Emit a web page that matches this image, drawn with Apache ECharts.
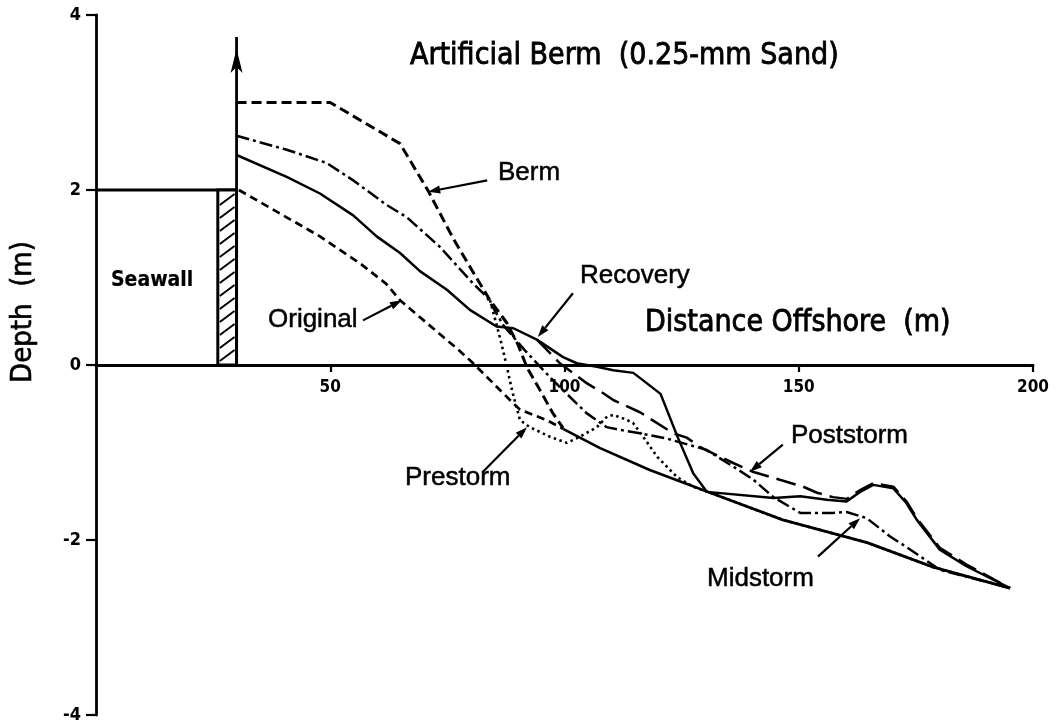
<!DOCTYPE html>
<html>
<head>
<meta charset="utf-8">
<script src="https://cdn.jsdelivr.net/npm/echarts@6/dist/echarts.min.js"></script>
<style>
  html, body { margin: 0; padding: 0; background: #fff; }
  #chart { width: 1059px; height: 727px; }
</style>
</head>
<body>
<div id="chart"></div>
<script>
// Beach profiles seaward of a seawall: distance offshore (m) against depth (m).
const xTicks = [0, 50, 100, 150, 200];
const yTicks = [-4, -2, 0, 2, 4];

// Seawall: offshore extent (m) and crest elevation (m)
const seawallX = [26, 30];
const seawallCrest = 2;
const backshore = [[0, 2], [30, 2]];
const wallFace = [[30, 0], [30, 3.75]];

// Profiles [distance, elevation]
const berm = [[30, 3.0], [50, 3.0], [64.9, 2.53], [70.9, 1.99], [76.2, 1.45], [80.5, 1.06], [84.1, 0.74], [87.7, 0.48], [90.1, 0.23], [92.0, -0.03], [94.8, -0.29], [97.5, -0.55], [99.7, -0.72]];
const originalNear = [[30.5, 2.0], [47.8, 1.47], [56.4, 1.16], [61.9, 0.93], [64.9, 0.74], [70.6, 0.48], [77.0, 0.19], [80.5, 0.02], [89.1, -0.44], [90.5, -0.51], [96.2, -0.63], [99.7, -0.73]];
const originalOffshore = [[99.7, -0.73], [107.6, -0.95], [118.2, -1.20], [131.1, -1.46], [146.6, -1.77], [164.6, -2.03], [178.7, -2.31], [195.1, -2.55]];
const prestorm = [[84.1, 0.74], [85.8, 0.40], [86.7, 0.21], [87.7, -0.02], [88.8, -0.29], [89.9, -0.51], [90.5, -0.63], [92.6, -0.71], [96.9, -0.82], [100.5, -0.89], [103.3, -0.82], [106.9, -0.71], [109.1, -0.59], [110.4, -0.57], [112.5, -0.61], [114.6, -0.66], [116.8, -0.82], [119.8, -1.05], [124.0, -1.28], [127.4, -1.39], [131.1, -1.46], [146.6, -1.77], [164.6, -2.03], [178.7, -2.31], [195.1, -2.55]];
const midstorm = [[30, 2.62], [40.7, 2.46], [49.2, 2.31], [54.9, 2.11], [62.0, 1.83], [66.3, 1.69], [73.4, 1.35], [80.5, 0.93], [83.4, 0.78], [87.0, 0.45], [91.5, 0.17], [96.9, -0.14], [100.5, -0.33], [104.7, -0.55], [109.0, -0.71], [111.8, -0.74], [116.1, -0.78], [121.8, -0.84], [130.3, -0.97], [136.0, -1.16], [140.3, -1.31], [144.6, -1.51], [150.3, -1.69], [157.4, -1.69], [160.2, -1.68], [164.5, -1.75], [169.5, -1.96], [173.0, -2.08], [180.1, -2.34], [195.1, -2.55]];
const poststorm = [[94.1, 0.29], [99.0, 0.02], [104.8, -0.21], [108.2, -0.32], [110.4, -0.40], [116.1, -0.54], [123.2, -0.78], [126.1, -0.83], [129.0, -0.94], [136.0, -1.12], [140.2, -1.22], [150.9, -1.39], [153.9, -1.46], [157.3, -1.51], [160.3, -1.53], [163.1, -1.43], [165.9, -1.35], [170.2, -1.39], [173.0, -1.56], [175.2, -1.75], [180.1, -2.09], [185.8, -2.28], [195.1, -2.55]];
const recovery = [[30, 2.4], [40.7, 2.15], [47.8, 1.96], [54.9, 1.71], [59.9, 1.47], [64.9, 1.28], [69.2, 1.07], [74.9, 0.86], [79.8, 0.63], [85.5, 0.44], [89.1, 0.42], [94.1, 0.29], [99.7, 0.09], [102.6, 0.02], [106.9, -0.02], [110.4, -0.06], [114.7, -0.09], [120.5, -0.33], [124.2, -0.83], [127.5, -1.24], [130.4, -1.45], [144.6, -1.52], [150.3, -1.50], [156.0, -1.54], [160.2, -1.56], [163.1, -1.45], [165.9, -1.37], [170.2, -1.41], [173.0, -1.58], [175.2, -1.77], [180.1, -2.11], [185.8, -2.30], [195.1, -2.55]];

// Leader arrows from each caption to its profile: [fromX, fromY, toX, toY] in axis units
const pointers = [
  [83.5, 2.11, 70.9, 1.98],
  [101.8, 0.82, 94.3, 0.32],
  [57.0, 0.51, 65.3, 0.74],
  [82.6, -1.22, 92.0, -0.71],
  [146.6, -0.91, 139.6, -1.22],
  [154.1, -2.19, 163.1, -1.75]
];

const INK = '#000';
const LABEL_FONT = '26px "Liberation Sans", Arial, sans-serif';
const TYPE_FONT = '"DejaVu Sans Condensed", "DejaVu Sans", sans-serif';

// Plot area; the upper band shares the same x scale and ends on the zero line,
// so its bottom axis draws the distance scale along depth 0.
const PLOT = { left: 96, right: 26, top: 15, bottom: 12 };
const ZERO_LINE_Y = 365;

function profile(name, data, width, dash) {
  return {
    name, type: 'line', data, symbol: 'none', z: 3,
    xAxisIndex: 0, yAxisIndex: 0,
    lineStyle: { color: INK, width, type: dash || 'solid', cap: 'butt', join: 'round' }
  };
}

function caption(text, x, y, font, weight) {
  return {
    type: 'text', x, y, z: 50,
    style: { text, font, fill: INK, align: 'left', verticalAlign: 'middle', stroke: INK, lineWidth: weight || 0.5 }
  };
}

const chart = echarts.init(document.getElementById('chart'), null, { renderer: 'canvas' });

chart.setOption({
  animation: false,
  backgroundColor: '#fff',
  grid: [
    Object.assign({ outerBoundsMode: 'none', containLabel: false }, PLOT),
    { outerBoundsMode: 'none', containLabel: false, left: PLOT.left, right: PLOT.right, top: PLOT.top, bottom: 727 - ZERO_LINE_Y }
  ],
  xAxis: [
    {
      gridIndex: 0, type: 'value', show: false,
      min: xTicks[0], max: xTicks[xTicks.length - 1], interval: xTicks[1] - xTicks[0]
    },
    {
      gridIndex: 1, type: 'value', position: 'bottom',
      min: xTicks[0], max: xTicks[xTicks.length - 1], interval: xTicks[1] - xTicks[0],
      axisLine: { show: true, onZero: false, lineStyle: { color: INK, width: 2.8 } },
      axisTick: { show: true, length: 7, lineStyle: { color: INK, width: 2.2 } },
      axisLabel: {
        showMinLabel: false, margin: 14, color: INK,
        fontFamily: TYPE_FONT, fontWeight: 'bold', fontSize: 17
      },
      splitLine: { show: false }
    }
  ],
  yAxis: [
    {
      gridIndex: 0, type: 'value',
      min: yTicks[0], max: yTicks[yTicks.length - 1], interval: yTicks[1] - yTicks[0],
      axisLine: { show: true, onZero: false, lineStyle: { color: INK, width: 2.8 } },
      axisTick: { show: true, length: 10, lineStyle: { color: INK, width: 2.2 } },
      axisLabel: { margin: 15, color: INK, fontFamily: TYPE_FONT, fontWeight: 'bold', fontSize: 18 },
      splitLine: { show: false }
    },
    { gridIndex: 1, type: 'value', show: false, min: 0, max: yTicks[yTicks.length - 1] }
  ],
  graphic: [
    caption('Artificial Berm  (0.25-mm Sand)', 410, 56, '30px ' + TYPE_FONT, 0.8),
    caption('Distance Offshore  (m)', 645, 323, '30px ' + TYPE_FONT, 0.8),
    caption('Seawall', 111, 281, 'bold 21px ' + TYPE_FONT, 0.2),
    {
      type: 'text', x: 23, y: 312, rotation: Math.PI / 2, z: 50,
      style: { text: 'Depth  (m)', font: '29px ' + TYPE_FONT, fill: INK, align: 'center', verticalAlign: 'middle', stroke: INK, lineWidth: 0.6 }
    },
    caption('Berm', 498, 173, LABEL_FONT),
    caption('Recovery', 580, 276, LABEL_FONT),
    caption('Original', 268, 320, LABEL_FONT),
    caption('Prestorm', 405, 478, LABEL_FONT),
    caption('Poststorm', 791, 436, LABEL_FONT),
    caption('Midstorm', 707, 579, LABEL_FONT)
  ],
  series: [
    {
      name: 'Seawall', type: 'custom', z: 4,
      data: [[seawallX[0], 0, seawallX[1], seawallCrest]],
      encode: { x: [0, 2], y: [1, 3] },
      renderItem(params, api) {
        const lo = api.coord([api.value(0), api.value(1)]);
        const hi = api.coord([api.value(2), api.value(3)]);
        const x0 = lo[0], x1 = hi[0], yb = lo[1], yt = hi[1];
        const children = [{
          type: 'rect', shape: { x: x0, y: yt, width: x1 - x0, height: yb - yt },
          style: { fill: '#fff', stroke: INK, lineWidth: 3 }
        }];
        for (let y = yt + 15; y <= yb - 2; y += 13) {
          children.push({
            type: 'line', shape: { x1: x0 + 2, y1: y, x2: x1 - 2, y2: y - 11 },
            style: { stroke: INK, lineWidth: 2 }
          });
        }
        return { type: 'group', children };
      }
    },
    profile('Backshore', backshore, 2.8),
    {
      name: 'Wall face', type: 'line', z: 5, symbol: 'none', showSymbol: true,
      data: [
        { value: wallFace[0] },
        { value: wallFace[1], symbol: 'arrow', symbolSize: [9, 24], symbolOffset: [0, '50%'] }
      ],
      itemStyle: { color: INK },
      lineStyle: { color: INK, width: 2.8 }
    },
    profile('Original', originalNear, 2.7, [8, 5]),
    profile('Original offshore', originalOffshore, 2.7),
    profile('Berm', berm, 3, [10, 5]),
    profile('Prestorm', prestorm, 2.6, [2.5, 3.5]),
    profile('Midstorm', midstorm, 2.5, [13, 4, 3, 4]),
    profile('Poststorm', poststorm, 2.5, [20, 8]),
    profile('Recovery', recovery, 2.5),
    {
      name: 'Pointers', type: 'custom', z: 6,
      data: pointers,
      encode: { x: [0, 2], y: [1, 3] },
      renderItem(params, api) {
        const a = api.coord([api.value(0), api.value(1)]);
        const b = api.coord([api.value(2), api.value(3)]);
        const dx = b[0] - a[0], dy = b[1] - a[1];
        const len = Math.hypot(dx, dy) || 1;
        const ux = dx / len, uy = dy / len;
        const headL = 12, headW = 4;
        const bx = b[0] - ux * headL, by = b[1] - uy * headL;
        return {
          type: 'group',
          children: [
            { type: 'line', shape: { x1: a[0], y1: a[1], x2: bx, y2: by }, style: { stroke: INK, lineWidth: 2.2 } },
            {
              type: 'polygon',
              shape: { points: [[b[0], b[1]], [bx - uy * headW, by + ux * headW], [bx + uy * headW, by - ux * headW]] },
              style: { fill: INK }
            }
          ]
        };
      }
    }
  ]
});
</script>
</body>
</html>
